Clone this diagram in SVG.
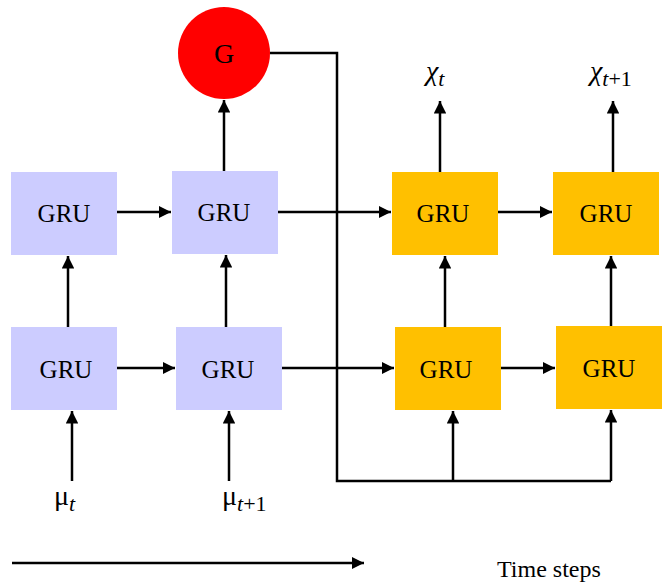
<svg xmlns="http://www.w3.org/2000/svg" width="670" height="584" viewBox="0 0 670 584">
<style>
.p{fill:#ccccff}
.o{fill:#ffc000}
text{font-family:"Liberation Serif","Times New Roman","DejaVu Serif",serif;fill:#000}
.t{font-size:25px;text-anchor:middle}
.c{stroke:#000;stroke-width:2.5;fill:none}
.m{font-size:28px}
.s{font-size:22px;font-style:italic}
</style>
<defs>
<marker id="ah" viewBox="0 0 10 10" refX="10" refY="5" markerWidth="5" markerHeight="5" orient="auto" markerUnits="strokeWidth">
<path d="M0,0 L10,5 L0,10 z" fill="#000"/>
</marker>
</defs>
<g id="connectors">
<line class="c" x1="117" y1="212" x2="171" y2="212" marker-end="url(#ah)"/>
<line class="c" x1="278" y1="212" x2="391" y2="212" marker-end="url(#ah)"/>
<line class="c" x1="498" y1="212" x2="552" y2="212" marker-end="url(#ah)"/>
<line class="c" x1="117" y1="368" x2="175" y2="368" marker-end="url(#ah)"/>
<line class="c" x1="282" y1="368" x2="394" y2="368" marker-end="url(#ah)"/>
<line class="c" x1="501" y1="368" x2="555" y2="368" marker-end="url(#ah)"/>
<line class="c" x1="68" y1="327" x2="68" y2="256" marker-end="url(#ah)"/>
<line class="c" x1="226" y1="327" x2="226" y2="255" marker-end="url(#ah)"/>
<line class="c" x1="445" y1="327" x2="445" y2="256" marker-end="url(#ah)"/>
<line class="c" x1="611" y1="326" x2="611" y2="256" marker-end="url(#ah)"/>
<line class="c" x1="224" y1="171" x2="224" y2="100" marker-end="url(#ah)"/>
<line class="c" x1="440" y1="172" x2="440" y2="101" marker-end="url(#ah)"/>
<line class="c" x1="613" y1="172" x2="613" y2="101" marker-end="url(#ah)"/>
<line class="c" x1="72" y1="481" x2="72" y2="411" marker-end="url(#ah)"/>
<line class="c" x1="229" y1="481" x2="229" y2="411" marker-end="url(#ah)"/>
<polyline class="c" points="270,53 337,53 337,481 611,481"/>
<line class="c" x1="453" y1="481" x2="453" y2="411" marker-end="url(#ah)"/>
<line class="c" x1="611" y1="481" x2="611" y2="410" marker-end="url(#ah)"/>
<line class="c" x1="12" y1="563" x2="364" y2="563" marker-end="url(#ah)"/>
</g>
<g id="G"><circle cx="224" cy="53" r="46" fill="#ff0000"/><text class="t" x="224" y="63" style="font-size:28px">G</text></g>
<g id="gru1"><rect class="p" x="11" y="172" width="106" height="83"/><text class="t" x="64" y="222">GRU</text></g>
<g id="gru2"><rect class="p" x="172" y="171" width="106" height="83"/><text class="t" x="224" y="221">GRU</text></g>
<g id="gru3"><rect class="p" x="11" y="327" width="106" height="83"/><text class="t" x="66" y="378">GRU</text></g>
<g id="gru4"><rect class="p" x="176" y="327" width="106" height="83"/><text class="t" x="228" y="378">GRU</text></g>
<g id="gru5"><rect class="o" x="392" y="172" width="106" height="83"/><text class="t" x="443" y="222">GRU</text></g>
<g id="gru6"><rect class="o" x="553" y="172" width="106" height="83"/><text class="t" x="606" y="222">GRU</text></g>
<g id="gru7"><rect class="o" x="395" y="327" width="106" height="83"/><text class="t" x="446" y="378">GRU</text></g>
<g id="gru8"><rect class="o" x="556" y="326" width="106" height="83"/><text class="t" x="609" y="377">GRU</text></g>
<g id="labels">
<text class="m" x="54" y="505">μ<tspan class="s" dy="6">t</tspan></text>
<text class="m" x="222" y="505">μ<tspan class="s" dy="6">t</tspan><tspan font-size="22">+1</tspan></text>
<text class="m" x="426" y="80" font-style="italic">χ<tspan class="s" dy="6">t</tspan></text>
<text class="m" x="590" y="80" font-style="italic">χ<tspan class="s" dy="6">t</tspan><tspan font-size="22" font-style="normal">+1</tspan></text>
<text x="497" y="577" font-size="24">Time steps</text>
</g>
</svg>
